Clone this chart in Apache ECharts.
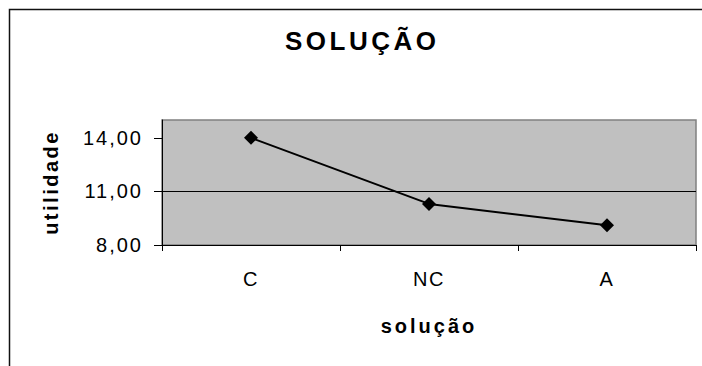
<!DOCTYPE html>
<html>
<head>
<meta charset="utf-8">
<script src="https://cdn.jsdelivr.net/npm/echarts@6/dist/echarts.min.js"></script>
<style>
  html, body { margin: 0; padding: 0; background: #fff; }
  #chart { width: 702px; height: 366px; }
</style>
</head>
<body>
<div id="chart"></div>
<script>
const titleText = 'SOLUÇÃO';
const xName = 'solução';
const yName = 'utilidade';
const categories = ['C', 'NC', 'A'];
const values = [14.0, 10.3, 9.1];
const yTicks = [8, 11, 14];

const FONT = '"Liberation Sans", Arial, sans-serif';
const fmt = v => v.toFixed(2).replace('.', ',');

const chart = echarts.init(document.getElementById('chart'), null, { renderer: 'svg' });
chart.setOption({
  animation: false,
  backgroundColor: '#ffffff',
  title: {
    text: titleText,
    left: 285,
    top: 28,
    padding: 0,
    textStyle: { fontFamily: FONT, fontSize: 26, fontWeight: 'bold', color: '#000' }
  },
  graphic: [{
    type: 'rect',
    shape: { x: 9.5, y: 9.5, width: 900, height: 600 },
    style: { fill: 'none', stroke: '#111', lineWidth: 1.5 },
    silent: true
  }],
  grid: {
    left: 162, right: 6, top: 120, bottom: 121,
    show: true, backgroundColor: '#c0c0c0', borderColor: '#808080', borderWidth: 1.5
  },
  xAxis: {
    type: 'category',
    data: categories,
    boundaryGap: true,
    name: xName,
    nameLocation: 'middle',
    nameGap: 71,
    nameTextStyle: { fontFamily: FONT, fontSize: 20, fontWeight: 'bold', color: '#000' },
    axisLine: { lineStyle: { color: '#000', width: 1 } },
    axisTick: { show: true, length: 6, lineStyle: { color: '#000' } },
    axisLabel: { fontFamily: FONT, fontSize: 20, color: '#000', margin: 24 },
    splitLine: { show: false }
  },
  yAxis: {
    type: 'value',
    min: 8, max: 15, interval: 3,
    name: yName,
    nameLocation: 'middle',
    nameGap: 101,
    nameTextStyle: { fontFamily: FONT, fontSize: 20, fontWeight: 'bold', color: '#000' },
    axisLine: { show: true, lineStyle: { color: '#000', width: 1 } },
    axisTick: { show: true, length: 8, customValues: yTicks, lineStyle: { color: '#000' } },
    axisLabel: { fontFamily: FONT, fontSize: 20, color: '#000', margin: 19, customValues: yTicks, formatter: fmt },
    splitLine: { show: true, showMaxLine: false, lineStyle: { color: '#000', width: 1 } }
  },
  series: [{
    type: 'line',
    data: values,
    symbol: 'diamond',
    symbolSize: 14,
    lineStyle: { color: '#000', width: 2 },
    itemStyle: { color: '#000' }
  }]
});

// letter spacing like the original rendering
const spacing = {};
spacing[titleText] = '3.5px';
spacing[xName] = '3px';
spacing[yName] = '2.5px';
categories.forEach(c => { spacing[c] = '1.5px'; });
document.querySelectorAll('#chart svg text').forEach(t => {
  const s = t.textContent;
  t.style.letterSpacing = spacing[s] || '2px';
});
</script>
</body>
</html>
